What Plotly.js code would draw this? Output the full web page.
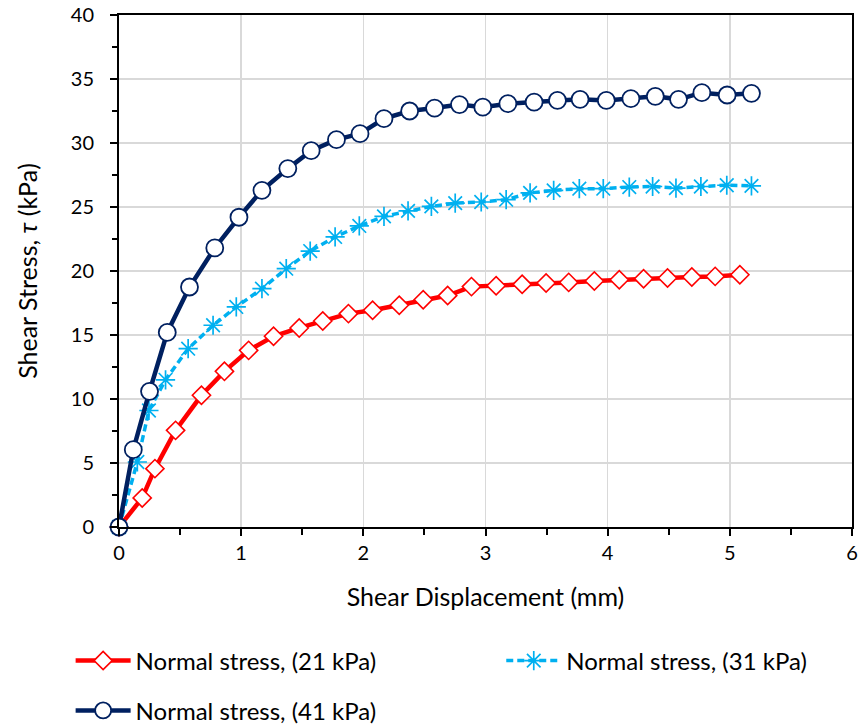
<!DOCTYPE html>
<html>
<head>
<meta charset="utf-8">
<script src="https://cdn.plot.ly/plotly-3.0.1.min.js"></script>
<style>html,body{margin:0;padding:0;background:#fff}#chart{width:863px;height:727px}</style>
</head>
<body>
<div id="chart"></div>
<script>
// 21 kPa normal stress
const x21 = [0, 0.19, 0.294, 0.463, 0.675, 0.863, 1.061, 1.265, 1.475, 1.668, 1.878, 2.076, 2.294, 2.49, 2.69, 2.885, 3.087, 3.3, 3.496, 3.681, 3.891, 4.095, 4.294, 4.49, 4.689, 4.88, 5.082];
const y21 = [0, 2.27, 4.56, 7.55, 10.29, 12.16, 13.8, 14.9, 15.55, 16.09, 16.67, 16.93, 17.32, 17.76, 18.08, 18.78, 18.85, 18.96, 19.06, 19.11, 19.22, 19.32, 19.4, 19.45, 19.53, 19.58, 19.71];
// 31 kPa normal stress
const x31 = [0, 0.15, 0.245, 0.381, 0.566, 0.77, 0.96, 1.17, 1.369, 1.565, 1.769, 1.967, 2.169, 2.366, 2.557, 2.752, 2.965, 3.169, 3.365, 3.558, 3.768, 3.964, 4.177, 4.368, 4.559, 4.763, 4.975, 5.177];
const y31 = [0, 5.08, 9.1, 11.5, 13.93, 15.76, 17.19, 18.62, 20.18, 21.56, 22.66, 23.52, 24.27, 24.7, 25.05, 25.3, 25.39, 25.57, 26.1, 26.3, 26.43, 26.43, 26.56, 26.6, 26.48, 26.6, 26.7, 26.65];
// 41 kPa normal stress
const x41 = [0, 0.117, 0.25, 0.395, 0.577, 0.784, 0.982, 1.17, 1.382, 1.573, 1.78, 1.973, 2.169, 2.379, 2.583, 2.787, 2.978, 3.183, 3.398, 3.589, 3.774, 3.989, 4.19, 4.39, 4.58, 4.771, 4.978, 5.177];
const y41 = [0, 6.04, 10.6, 15.2, 18.75, 21.8, 24.2, 26.3, 28.0, 29.4, 30.26, 30.73, 31.9, 32.5, 32.73, 33.0, 32.8, 33.07, 33.2, 33.33, 33.41, 33.33, 33.46, 33.65, 33.41, 33.93, 33.75, 33.88];

const names = ['Normal stress, (21 kPa)', 'Normal stress, (31 kPa)', 'Normal stress, (41 kPa)'];
const xTitle = 'Shear Displacement (mm)';
const yTitle = 'Shear Stress, <i>τ</i> (kPa)';

const FONT = 'Lato, "Open Sans", sans-serif';

const traces = [
  {x: x21, y: y21, name: names[0], type: 'scatter', mode: 'lines+markers', legend: 'legend', cliponaxis: false,
   line: {color: '#FF0000', width: 4.5},
   marker: {symbol: 'diamond', size: 14, color: '#FFFFFF', line: {color: '#FF0000', width: 1.6}}},
  {x: x31, y: y31, name: names[1], type: 'scatter', mode: 'lines+markers', legend: 'legend2', cliponaxis: false,
   line: {color: '#00B0F0', width: 3.5, dash: '7px,4px'},
   marker: {symbol: 'asterisk-open', size: 16, color: '#00B0F0', line: {color: '#00B0F0', width: 1.7}}},
  {x: x41, y: y41, name: names[2], type: 'scatter', mode: 'lines+markers', legend: 'legend3', cliponaxis: false,
   line: {color: '#002060', width: 4.5},
   marker: {symbol: 'circle', size: 17, color: '#FFFFFF', line: {color: '#002060', width: 1.8}}}
];

const legBase = {orientation: 'h', xanchor: 'left', yanchor: 'middle', bgcolor: 'rgba(0,0,0,0)',
  font: {family: FONT, size: 24, color: '#000'}, itemwidth: 55};

const layout = {
  width: 863, height: 727,
  margin: {l: 118.5, r: 11, t: 15, b: 200, autoexpand: false},
  paper_bgcolor: '#fff', plot_bgcolor: '#fff',
  font: {family: FONT, color: '#000'},
  showlegend: true,
  xaxis: {
    range: [0, 6], dtick: 1, tick0: 0,
    showline: true, linecolor: '#000', linewidth: 2, mirror: true,
    showgrid: true, gridcolor: '#D9D9D9', gridwidth: 1.5, zeroline: false,
    ticks: 'outside', ticklen: 7, tickwidth: 2, tickcolor: '#000',
    minor: {dtick: 0.5, ticks: 'outside', ticklen: 6, tickwidth: 2, tickcolor: '#000', showgrid: false},
    tickfont: {family: FONT, size: 20, color: '#000'},
    ticklabelstandoff: 0,
    title: {text: xTitle, font: {family: FONT, size: 25, color: '#000'}, standoff: 25}
  },
  yaxis: {
    range: [0, 40], dtick: 5, tick0: 0,
    showline: true, linecolor: '#000', linewidth: 2, mirror: true,
    showgrid: true, gridcolor: '#D9D9D9', gridwidth: 1.5, zeroline: false,
    ticks: 'outside', ticklen: 7, tickwidth: 2, tickcolor: '#000',
    minor: {dtick: 2.5, ticks: 'outside', ticklen: 5, tickwidth: 2, tickcolor: '#000', showgrid: false},
    tickfont: {family: FONT, size: 20, color: '#000'},
    ticklabelstandoff: 12,
    title: {text: yTitle, font: {family: FONT, size: 25, color: '#000'}, standoff: 26}
  },
  legend: Object.assign({}, legBase, {x: -0.066, y: -0.2617}),
  legend2: Object.assign({}, legBase, {x: 0.5215, y: -0.2617}),
  legend3: Object.assign({}, legBase, {x: -0.066, y: -0.359})
};

Plotly.newPlot('chart', traces, layout, {displayModeBar: false, staticPlot: true});
</script>
</body>
</html>
